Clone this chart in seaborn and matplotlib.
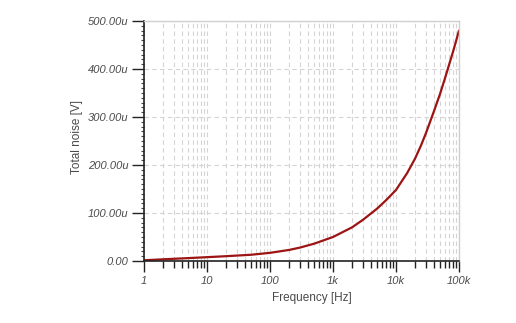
import matplotlib
matplotlib.use("Agg")
import matplotlib.pyplot as plt
import matplotlib.ticker as mticker
import seaborn as sns
import pandas as pd
import numpy as np

# Data
freq_hz = [1, 2, 5, 10, 20, 50, 100, 200, 300, 500, 1e3, 2e3, 3e3, 5e3, 7e3,
           1e4, 1.5e4, 2e4, 2.5e4, 3e4, 4e4, 5e4, 6e4, 7e4, 8e4, 1e5]
noise_uv = [1.5, 3.5, 6, 8, 10, 13, 17, 23, 28, 36, 50, 70, 86, 109, 127,
            148, 183, 213, 241, 267, 312, 348, 381, 410, 435, 480]
x_tick_vals = [1, 10, 100, 1e3, 1e4, 1e5]
x_tick_labels = ["1", "10", "100", "1k", "10k", "100k"]
y_tick_vals = [0, 100, 200, 300, 400, 500]
y_tick_labels = ["0.00", "100.00u", "200.00u", "300.00u", "400.00u", "500.00u"]

df = pd.DataFrame({"Frequency [Hz]": freq_hz, "Total noise [V]": noise_uv})

sns.set_style("white")
plt.rcParams['font.family'] = ['Liberation Sans', 'DejaVu Sans']

fig = plt.figure(figsize=(5.16, 3.23), dpi=100)
ax = fig.add_axes([144/516, 1 - 261/323, (459-144)/516, (261-21)/323])

sns.lineplot(data=df, x="Frequency [Hz]", y="Total noise [V]", ax=ax,
             color="#9c1414", linewidth=1.6)

ax.set_xscale("log")
ax.set_xlim(1, 1e5)
ax.set_ylim(0, 500)

text_col = "#4a4a4a"
ax.set_xticks(x_tick_vals)
ax.set_xticklabels(x_tick_labels, fontstyle="italic", fontsize=8, color=text_col)
ax.xaxis.set_minor_locator(mticker.LogLocator(base=10, subs=np.arange(2, 10)))
ax.xaxis.set_minor_formatter(mticker.NullFormatter())
ax.set_yticks(y_tick_vals)
ax.set_yticklabels(y_tick_labels, fontstyle="italic", fontsize=8, color=text_col)
ax.yaxis.set_minor_locator(mticker.MultipleLocator(10))

ax.tick_params(axis="both", which="both", bottom=True, left=True, top=False, right=False)
ax.tick_params(axis="x", which="major", direction="out", length=8, width=1,
               color="#222222", pad=3)
ax.tick_params(axis="x", which="minor", direction="out", length=5, width=1,
               color="#222222")
ax.tick_params(axis="y", which="major", direction="out", length=9, width=1,
               color="#222222", pad=2)
ax.tick_params(axis="y", which="minor", direction="out", length=2, width=0.8,
               color="#444444")

ax.grid(True, which="major", axis="both", color="#d4d4d4", linestyle=(0, (4, 3)),
        linewidth=0.8)
ax.grid(True, which="minor", axis="x", color="#d4d4d4", linestyle=(0, (4, 3)),
        linewidth=0.8)

for side in ["top", "right"]:
    ax.spines[side].set_visible(True)
    ax.spines[side].set_color("#d0d0d0")
    ax.spines[side].set_linewidth(1)
for side in ["left", "bottom"]:
    ax.spines[side].set_color("#222222")
    ax.spines[side].set_linewidth(1.2)

ax.set_xlabel("Frequency [Hz]", fontsize=8.5, color=text_col)
ax.set_ylabel("Total noise [V]", fontsize=8.5, color=text_col)
ax.xaxis.set_label_coords((312-144)/(459-144), -(298-261)/240, transform=ax.transAxes)
ax.yaxis.set_label_coords(-(144-77)/315, (261-137)/240, transform=ax.transAxes)
ax.xaxis.label.set_verticalalignment("center")
ax.yaxis.label.set_verticalalignment("center")

fig.savefig("out.png", dpi=100)
